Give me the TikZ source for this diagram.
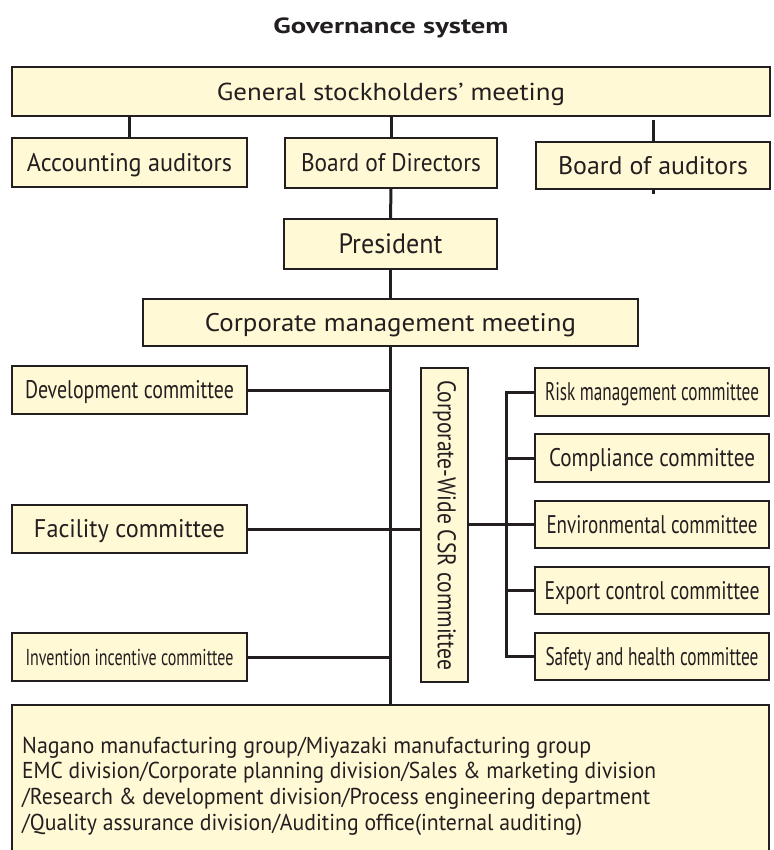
\documentclass[tikz,border=0pt]{standalone}
\usepackage{fontspec}
\setmainfont{PT Sans}
\usepackage{graphicx}
\definecolor{boxfill}{HTML}{FFF9D5}
\definecolor{ink}{HTML}{231F20}
\newcommand{\fitw}[2]{\resizebox{#1pt}{\height}{#2}}
\begin{document}
\begin{tikzpicture}[x=1pt,y=-1pt,
  boxbase/.style={draw=ink, fill=boxfill, line width=1.5pt, inner sep=0pt, text=ink,
    font=\fontsize{25.5}{25.5}\selectfont},
  box/.style={boxbase, text height=17.8pt, text depth=0pt},
  midbox/.style={boxbase, font=\fontsize{24.5}{24.5}\selectfont, text height=17.1pt, text depth=0pt},
  smallbox/.style={boxbase, font=\fontsize{23}{23}\selectfont, text height=16pt, text depth=0pt},
  bigbox/.style={boxbase, font=\fontsize{28}{28}\selectfont, text height=19.6pt, text depth=0pt},
  conn/.style={draw=ink, line width=3pt},
  txt/.style={inner sep=0pt, text=ink, anchor=base west, font=\fontsize{23}{23}\selectfont}]
\useasboundingbox (0,0) rectangle (773,850);
\clip (0,0) rectangle (773,850);
% title
\node[text=ink, inner sep=0pt, anchor=base, font=\bfseries\fontsize{22}{22}\selectfont] (title) at (391,34) {\fitw{235}{Governance system}};
% top boxes
\node[midbox, minimum width=758, minimum height=49] (gsm) at (391,91.5) {\fitw{348}{General stockholders’ meeting}};
\node[box, minimum width=235, minimum height=49] (acc) at (129.5,162.5) {\fitw{205}{Accounting auditors}};
\node[box, minimum width=212, minimum height=50] (bod) at (391,163) {\fitw{180}{Board of Directors}};
\node[box, minimum width=234, minimum height=47] (aud) at (653,165.5) {\fitw{190}{Board of auditors}};
\node[bigbox, minimum width=213, minimum height=50] (pres) at (390.5,244) {\fitw{104}{President}};
\node[box, minimum width=495, minimum height=47] (corp) at (390.5,322.5) {\fitw{371}{Corporate management meeting}};
% left committees
\node[box, minimum width=235, minimum height=48] (dev) at (129.5,390) {\fitw{209}{Development committee}};
\node[box, minimum width=235, minimum height=48] (fac) at (129.5,529) {\fitw{191}{Facility committee}};
\node[smallbox, minimum width=235, minimum height=48] (inv) at (129.5,657) {\fitw{208}{Invention incentive committee}};
% CSR committee
\node[boxbase, minimum width=47, minimum height=314] (csr) at (444.5,525) {\rotatebox{-90}{\fitw{290}{Corporate-Wide CSR committee}}};
% right committees
\node[box, minimum width=234, minimum height=48] (risk) at (652,392) {\fitw{214}{Risk management committee}};
\node[box, minimum width=234, minimum height=48] (comp) at (652,458) {\fitw{206}{Compliance committee}};
\node[box, minimum width=234, minimum height=47] (env) at (652,524.5) {\fitw{211}{Environmental committee}};
\node[box, minimum width=234, minimum height=47] (exp) at (652,590.5) {\fitw{215}{Export control committee}};
\node[box, minimum width=234, minimum height=47] (saf) at (652,656.5) {\fitw{213}{Safety and health committee}};
% bottom units box
\node[boxbase, minimum width=757, minimum height=150] (units) at (390.5,780) {};
\node[txt] (u1) at (22,753) {\fitw{569}{Nagano manufacturing group/Miyazaki manufacturing group}};
\node[txt] (u2) at (22,778.5) {\fitw{634}{EMC division/Corporate planning division/Sales \& marketing division}};
\node[txt] (u3) at (22,804.5) {\fitw{628}{/Research \& development division/Process engineering department}};
\node[txt] (u4) at (22,830) {\fitw{560}{/Quality assurance division/Auditing office(internal auditing)}};
% connectors
\draw[conn] (acc.north) -- (acc.north |- gsm.south);
\draw[conn] (bod.north) -- (bod.north |- gsm.south);
\draw[conn] (aud.north) -- ++(0,-21);
\draw[conn] (aud.south) -- ++(0,4);
\draw[conn] (bod.south) -- (pres.north);
\draw[conn] (pres.south) -- (corp.north);
\draw[conn] (corp.south) -- (units.north);
\draw[conn] (dev.east) -- (dev.east -| corp.south);
\draw[conn] (fac.east) -- (fac.east -| corp.south);
\draw[conn] (inv.east) -- (inv.east -| corp.south);
\draw[conn] (csr.west |- fac.east) -- (fac.east -| corp.south);
\coordinate (bus) at (506,0);
\draw[conn] (csr.east |- env.west) -- (env.west -| bus);
\draw[conn] (risk.west) -- (risk.west -| bus) -- (saf.west -| bus) -- (saf.west);
\draw[conn] (comp.west) -- (comp.west -| bus);
\draw[conn] (env.west) -- (env.west -| bus);
\draw[conn] (exp.west) -- (exp.west -| bus);
\end{tikzpicture}
\end{document}
